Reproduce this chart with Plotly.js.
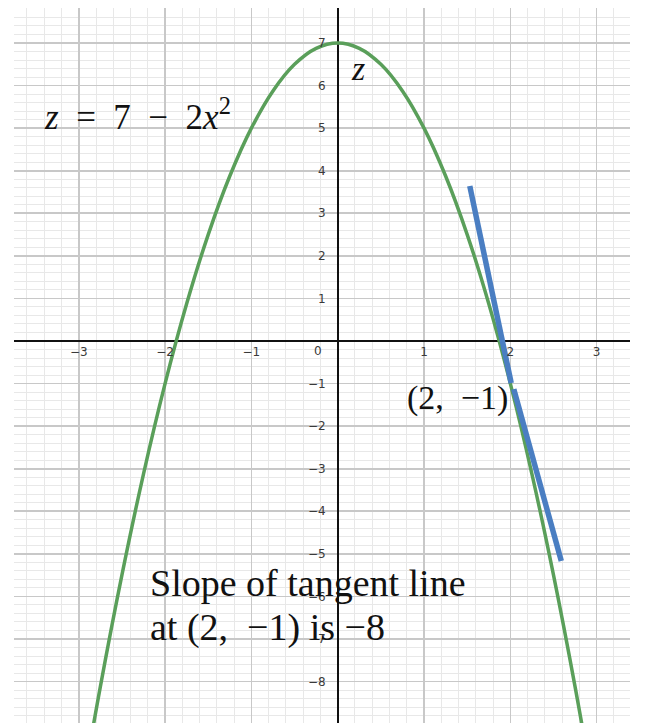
<!DOCTYPE html>
<html>
<head>
<meta charset="utf-8">
<script src="https://cdn.plot.ly/plotly-3.0.1.min.js"></script>
<style>html,body{margin:0;padding:0;background:#fff;}#chart{width:658px;height:723px;}</style>
</head>
<body>
<div id="chart"></div>
<script>
// Parabola z = 7 - 2x^2
var curveX = [-3, -2.75, -2.5, -2.25, -2, -1.75, -1.5, -1.25, -1, -0.75, -0.5, -0.25, 0, 0.25, 0.5, 0.75, 1, 1.25, 1.5, 1.75, 2, 2.25, 2.5, 2.75, 3];
var curveZ = [-11, -8.125, -5.5, -3.125, -1, 0.875, 2.5, 3.875, 5, 5.875, 6.5, 6.875, 7, 6.875, 6.5, 5.875, 5, 3.875, 2.5, 0.875, -1, -3.125, -5.5, -8.125, -11];
// Tangent line as drawn (two pieces, broken at the point label)
var tangentX = [1.53, 2.01, null, 2.04, 2.59];
var tangentZ = [3.64, -0.99, null, -1.13, -5.17];
// Axis tick labels
var xTicks = [-3, -2, -1, 1, 2, 3];
var yTicks = [-9, -8, -7, -6, -5, -4, -3, -2, -1, 1, 2, 3, 4, 5, 6, 7];

var xRange = [-3.75, 3.386];
var yRange = [-8.973, 7.822];

var gridMajor = '#c8c8c8', gridMinor = '#e8e8e8';
var tickFont = {family: 'DejaVu Sans', size: 12, color: '#3a3a3a'};
var serif = 'Liberation Serif';
var SP = '\u2002';

var traces = [
  {x: curveX, y: curveZ, type: 'scatter', mode: 'lines',
   line: {color: '#5a9f5a', width: 3.5, shape: 'spline', smoothing: 1}, hoverinfo: 'skip'},
  {x: tangentX, y: tangentZ, type: 'scatter', mode: 'lines', connectgaps: false,
   line: {color: '#4a7ec2', width: 5.5}, hoverinfo: 'skip'}
];

var layout = {
  width: 658, height: 723,
  margin: {l: 14, r: 28, t: 8, b: 0, pad: 0},
  paper_bgcolor: '#ffffff', plot_bgcolor: '#ffffff',
  showlegend: false,
  xaxis: {
    range: xRange, anchor: 'free',
    position: (0 - yRange[0]) / (yRange[1] - yRange[0]),
    tickmode: 'array', tickvals: xTicks, ticks: '',
    tickfont: tickFont, ticklabelstandoff: 2,
    showgrid: true, gridcolor: gridMajor, gridwidth: 1.6,
    minor: {tickmode: 'linear', tick0: 0, dtick: 0.2, showgrid: true, gridcolor: gridMinor, gridwidth: 1},
    zeroline: true, zerolinecolor: '#111111', zerolinewidth: 1.6,
    showline: false, fixedrange: true
  },
  yaxis: {
    range: yRange, anchor: 'free',
    position: (0 - xRange[0]) / (xRange[1] - xRange[0]),
    tickmode: 'array', tickvals: yTicks, ticks: '',
    tickfont: tickFont, ticklabelstandoff: 12,
    showgrid: true, gridcolor: gridMajor, gridwidth: 1.6,
    minor: {tickmode: 'linear', tick0: 0, dtick: 0.2, showgrid: true, gridcolor: gridMinor, gridwidth: 1},
    zeroline: true, zerolinecolor: '#111111', zerolinewidth: 1.6,
    showline: false, fixedrange: true
  },
  annotations: [
    {x: -0.23, y: -0.235, xref: 'x', yref: 'y', text: '0', showarrow: false,
     font: tickFont, xanchor: 'center', yanchor: 'middle'},
    {x: -3.425, y: 5.33, xref: 'x', yref: 'y', showarrow: false, xanchor: 'left', yanchor: 'middle',
     text: '<i>z</i>' + SP + '=' + SP + '7' + SP + '−' + SP + '2<i>x</i><sup>2</sup>',
     font: {family: serif, size: 35, color: '#111'}},
    {x: 0.235, y: 6.41, xref: 'x', yref: 'y', showarrow: false, xanchor: 'center', yanchor: 'middle',
     text: '<i>z</i>', font: {family: serif, size: 34, color: '#111'}},
    {x: 3.456, y: -0.728, xref: 'x', yref: 'y', showarrow: false, xanchor: 'center', yanchor: 'middle',
     text: '<i>x</i>', font: {family: serif, size: 38, color: '#111'}},
    {x: 1.996, y: -1.339, xref: 'x', yref: 'y', showarrow: false, xanchor: 'right', yanchor: 'middle',
     text: '(2,' + SP + '−1)', font: {family: serif, size: 34, color: '#111'}},
    {x: -2.198, y: -5.685, xref: 'x', yref: 'y', showarrow: false, xanchor: 'left', yanchor: 'middle',
     text: 'Slope of tangent line', font: {family: serif, size: 38, color: '#111'}},
    {x: -2.198, y: -6.72, xref: 'x', yref: 'y', showarrow: false, xanchor: 'left', yanchor: 'middle',
     text: 'at (2,' + SP + '−1) is −8', font: {family: serif, size: 38, color: '#111'}}
  ]
};

Plotly.newPlot('chart', traces, layout, {displayModeBar: false, staticPlot: true});
</script>
</body>
</html>
